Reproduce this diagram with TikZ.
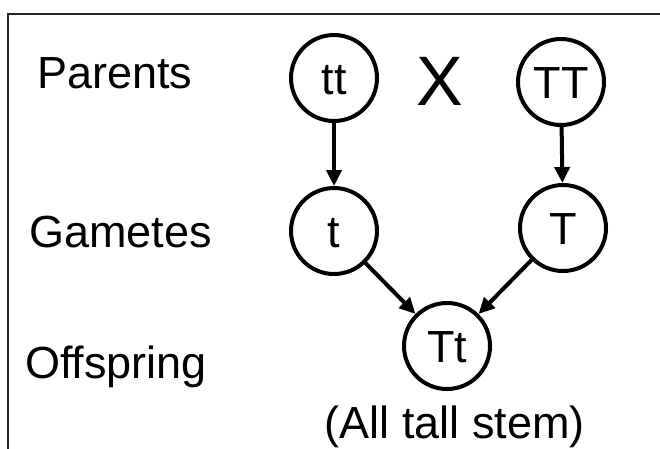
\documentclass[tikz,border=0pt]{standalone}
\usepackage{fontspec}
\setmainfont{Liberation Sans}
\usetikzlibrary{arrows.meta}
\begin{document}
\begin{tikzpicture}[x=1pt,y=-1pt,
  allele/.style={circle,draw=black,line width=4pt,minimum size=86pt,inner sep=0pt,
    text height=32pt,text depth=0pt,
    font=\fontsize{45}{50}\selectfont},
  rowlabel/.style={anchor=base west,inner sep=0pt,font=\fontsize{45}{50}\selectfont},
  link/.style={line width=4pt,-{Triangle[length=16pt,width=15pt]}}]
\useasboundingbox (0,0) rectangle (660,448);
\fill[white] (0,0) rectangle (660,448);
\draw[line width=2pt,black!85] (8,460) -- (8,14) -- (670,14);
% row labels
\node[rowlabel] (lp) at (37,88) {Parents};
\node[rowlabel] (lg) at (29,247) {Gametes};
\node[rowlabel] (lo) at (25,378) {Offspring};
% circles
\node[allele] (tt) at (334,78) {tt};
\node[allele] (TT) at (561,82) {TT};
\node[allele] (t) at (334,231) {t};
\node[allele] (T) at (563,228) {T};
\node[allele] (Tt) at (447,346) {Tt};
\node[inner sep=0pt,text height=50pt,text depth=0pt,font=\fontsize{70}{75}\selectfont] (x) at (440,80) {X};
\node[anchor=base,inner sep=0pt,font=\fontsize{45}{50}\selectfont] (all) at (455,438) {(All tall stem)};
% arrows
\draw[link] (tt) -- (t);
\draw[link] (TT) -- (T);
\draw[link] (t) -- (Tt);
\draw[link] (T) -- (Tt);
\end{tikzpicture}
\end{document}
